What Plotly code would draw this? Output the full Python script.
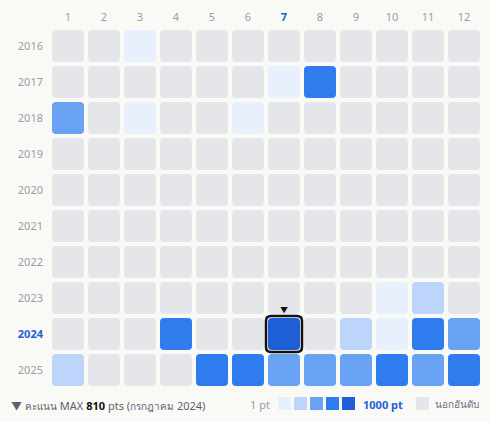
import plotly.graph_objects as go

months = list(range(1, 13))
years = list(range(2016, 2026))
# points per (year, month); None = not ranked
points = {
    2016: [None, None, 5, None, None, None, None, None, None, None, None, None],
    2017: [None, None, None, None, None, None, 4, 420, None, None, None, None],
    2018: [150, None, 6, None, None, 3, None, None, None, None, None, None],
    2019: [None] * 12,
    2020: [None] * 12,
    2021: [None] * 12,
    2022: [None] * 12,
    2023: [None, None, None, None, None, None, None, None, None, 8, 40, None],
    2024: [None, None, None, 430, None, None, 810, None, 35, 5, 450, 160],
    2025: [30, None, None, None, 400, 410, 140, 130, 150, 390, 170, 440],
}
bin_edges = [1, 10, 60, 200, 600, 1001]
level_colors = ["#e8f0fe", "#bdd4fb", "#6aa2f4", "#2f7cee", "#1f5fd6"]
empty_color = "#e5e6ea"
max_year, max_month, max_pts = 2024, 7, 810
max_label_th = "กรกฎาคม"

BG = "#f9f9f6"
GREY = "#9c99a8"
BLUE = "#1f5fd6"
FONT = "Noto Sans, Inter, sans-serif"

W, H = 490, 422
L, R, T, B = 50, 8, 28, 34
PW, PH = W - L - R, H - T - B


def color_for(v):
    if v is None:
        return empty_color
    for i in range(len(level_colors)):
        if bin_edges[i] <= v < bin_edges[i + 1]:
            return level_colors[i]
    return level_colors[-1]


def rrect(x0, y0, x1, y1, rx, ry):
    sx = 1 if x1 > x0 else -1
    sy = 1 if y1 > y0 else -1
    return (f"M {x0+sx*rx},{y0} L {x1-sx*rx},{y0} Q {x1},{y0} {x1},{y0+sy*ry} "
            f"L {x1},{y1-sy*ry} Q {x1},{y1} {x1-sx*rx},{y1} "
            f"L {x0+sx*rx},{y1} Q {x0},{y1} {x0},{y1-sy*ry} "
            f"L {x0},{y0+sy*ry} Q {x0},{y0} {x0+sx*rx},{y0} Z")


ux = PW / 12.0
uy = PH / 10.0
half_x = 16 / ux
half_y = 16 / uy
rad_x = 4 / ux
rad_y = 4 / uy

shapes = []
hx, hy, htext = [], [], []
for y in years:
    for m, v in zip(months, points[y]):
        shapes.append(dict(type="path", xref="x", yref="y",
                           path=rrect(m - half_x, y - half_y, m + half_x, y + half_y, rad_x, rad_y),
                           fillcolor=color_for(v), line=dict(width=0), layer="below"))
        hx.append(m)
        hy.append(y)
        htext.append(f"{y}-{m}: {v if v is not None else '-'}")

# highlight max cell
shapes.append(dict(type="path", xref="x", yref="y",
                   path=rrect(max_month - 0.5, max_year - 0.5, max_month + 0.5, max_year + 0.5,
                              5 / ux, 5 / uy),
                   fillcolor="rgba(0,0,0,0)", line=dict(color="#111111", width=2.5), layer="above"))


def px2paper_x(px):
    return (px - L) / PW


def px2paper_y(py):
    return (H - B - py) / PH


# legend swatches
sw_x = [278, 294, 310, 326, 342]
for c, sx in zip(level_colors, sw_x):
    shapes.append(dict(type="rect", xref="paper", yref="paper",
                       x0=px2paper_x(sx), x1=px2paper_x(sx + 13),
                       y0=px2paper_y(410), y1=px2paper_y(397),
                       fillcolor=c, line=dict(width=0)))
shapes.append(dict(type="rect", xref="paper", yref="paper",
                   x0=px2paper_x(416), x1=px2paper_x(429),
                   y0=px2paper_y(410), y1=px2paper_y(397),
                   fillcolor=empty_color, line=dict(width=0)))

fig = go.Figure()
fig.add_trace(go.Scatter(x=hx, y=hy, mode="markers", text=htext, hoverinfo="text",
                         marker=dict(size=30, opacity=0), showlegend=False))

TH = "<span style='font-size:10px'>{}</span>"
annotations = [
    dict(x=max_month, y=max_year - 0.5, xref="x", yref="y", text="▼", showarrow=False,
         yanchor="bottom", yshift=-1, font=dict(size=8, color="#111111", family=FONT)),
    dict(x=px2paper_x(9), y=px2paper_y(405), xref="paper", yref="paper", xanchor="left",
         yanchor="middle", showarrow=False,
         text=(f"▼ {TH.format('คะแนน')} MAX <b><span style='color:#111111'>{max_pts}</span></b> pts "
               f"({TH.format(max_label_th)} {max_year})"),
         font=dict(size=11, color="#5f5f6e", family=FONT)),
    dict(x=px2paper_x(272), y=px2paper_y(404), xref="paper", yref="paper", xanchor="right",
         yanchor="middle", showarrow=False, text="1 pt",
         font=dict(size=11, color=GREY, family=FONT)),
    dict(x=px2paper_x(361), y=px2paper_y(404), xref="paper", yref="paper", xanchor="left",
         yanchor="middle", showarrow=False, text="<b>1000 pt</b>",
         font=dict(size=11, color=BLUE, family=FONT)),
    dict(x=px2paper_x(433), y=px2paper_y(404), xref="paper", yref="paper", xanchor="left",
         yanchor="middle", showarrow=False, text="นอกอันดับ",
         font=dict(size=10, color="#6f6f7e", family=FONT)),
]

xtick = [f"<b><span style='color:{BLUE}'>{m}</span></b>" if m == max_month else str(m) for m in months]
ytick = [f"<b><span style='color:{BLUE}'>{y}</span></b>" if y == max_year else str(y) for y in years]

fig.update_layout(
    width=W, height=H,
    margin=dict(l=L, r=R, t=T, b=B, pad=0, autoexpand=False),
    paper_bgcolor=BG, plot_bgcolor=BG,
    font=dict(family=FONT, size=11, color=GREY),
    shapes=shapes,
    annotations=annotations,
    xaxis=dict(range=[0.5, 12.5], side="top", tickvals=months, ticktext=xtick,
               showgrid=False, zeroline=False, showline=False, ticks="",
               ticklabelstandoff=4, fixedrange=True, automargin=False),
    yaxis=dict(range=[2025.5, 2015.5], tickvals=years, ticktext=ytick,
               showgrid=False, zeroline=False, showline=False, ticks="",
               ticklabelstandoff=6, fixedrange=True, automargin=False),
    showlegend=False,
)

fig.write_html("out.html", config={"displayModeBar": False},
               post_script="document.body.style.margin='0';document.body.style.background='#f9f9f6';")
